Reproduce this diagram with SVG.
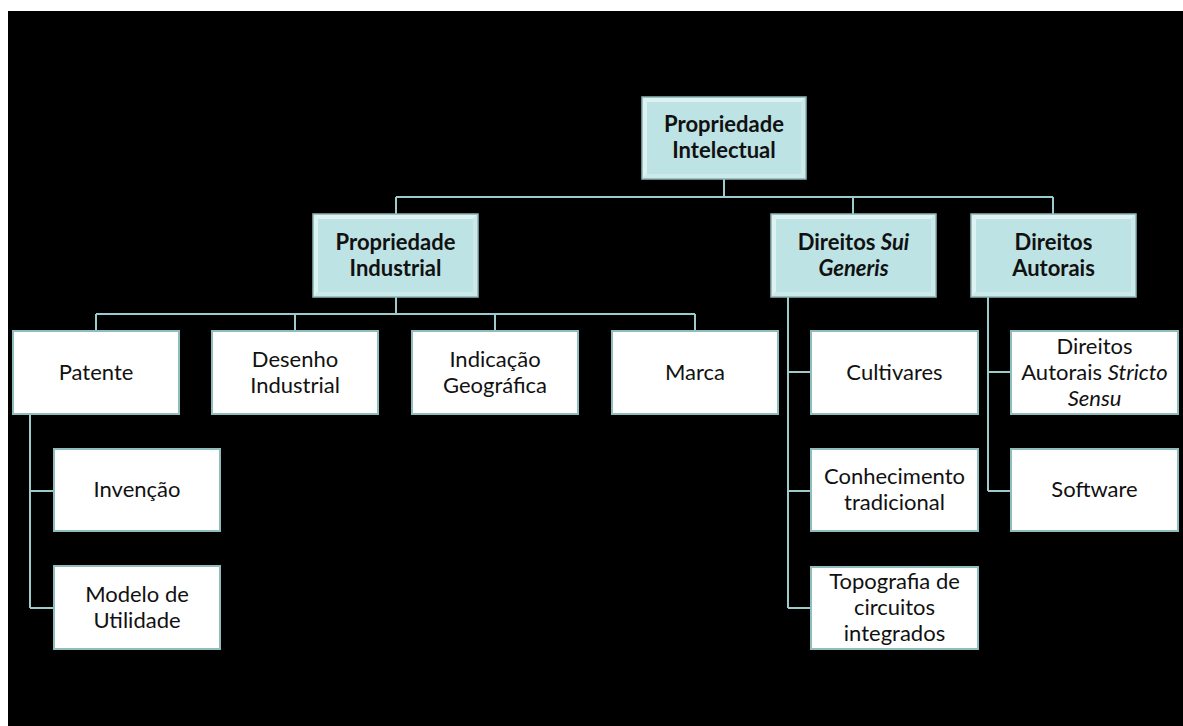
<svg xmlns="http://www.w3.org/2000/svg" width="1183" height="726" viewBox="0 0 1183 726">
  <defs>
    <style>
      .bg { fill: #000000; }
      .frame { fill: #ffffff; }
      .link { fill: none; stroke: #9ccbcb; stroke-width: 2; }
      .head rect.face { fill: #bde3e4; stroke: #8fb7b8; stroke-width: 1.5; }
      .head .hi { fill: #dff2f2; }
      .head .lo { fill: #cdeaea; }
      .leaf rect { fill: #ffffff; stroke: #8fbcbc; stroke-width: 2; }
      text { font-family: Lato, "Open Sans", "Liberation Sans", sans-serif; font-size: 22px; fill: #111111; text-anchor: middle; }
      .head text { font-weight: bold; }
      .it { font-style: italic; }
    </style>
  </defs>

  <!-- page -->
  <rect class="frame" x="0" y="0" width="1183" height="726"/>
  <rect class="bg" x="8" y="11" width="1175" height="715"/>

  <!-- connectors -->
  <g id="connectors">
    <path class="link" d="M724 179 V197 M396 197 H1053 M396 197 V214 M853 197 V214 M1053 197 V214"/>
    <path class="link" d="M396 297 V314 M96 314 H695 M96 314 V331 M295 314 V331 M495 314 V331 M695 314 V331"/>
    <path class="link" d="M30 414 V608 M30 491 H54 M30 608 H54"/>
    <path class="link" d="M788 297 V608 M788 372 H811 M788 491 H811 M788 608 H811"/>
    <path class="link" d="M988 297 V491 M988 372 H1011 M988 491 H1011"/>
  </g>

  <!-- top level -->
  <g id="propriedade-intelectual" class="head">
    <rect class="face" x="642" y="97" width="164" height="82"/>
    <polygon class="hi" points="643,98 805,98 801,102 647,102"/>
    <polygon class="hi" points="643,98 647,102 647,174 643,178"/>
    <polygon class="lo" points="805,98 805,178 801,174 801,102"/>
    <polygon class="lo" points="643,178 805,178 801,174 647,174"/>
    <rect class="face" x="647" y="102" width="154" height="72" style="stroke:none"/>
    <text x="724" y="132">Propriedade</text>
    <text x="724" y="158">Intelectual</text>
  </g>

  <!-- second level -->
  <g id="propriedade-industrial" class="head">
    <rect class="face" x="313" y="214" width="165" height="83"/>
    <polygon class="hi" points="314,215 477,215 473,219 318,219"/>
    <polygon class="hi" points="314,215 318,219 318,292 314,296"/>
    <polygon class="lo" points="477,215 477,296 473,292 473,219"/>
    <polygon class="lo" points="314,296 477,296 473,292 318,292"/>
    <rect class="face" x="318" y="219" width="155" height="73" style="stroke:none"/>
    <text x="395.5" y="250">Propriedade</text>
    <text x="395.5" y="276">Industrial</text>
  </g>

  <g id="direitos-sui-generis" class="head">
    <rect class="face" x="771" y="214" width="165" height="83"/>
    <polygon class="hi" points="772,215 935,215 931,219 776,219"/>
    <polygon class="hi" points="772,215 776,219 776,292 772,296"/>
    <polygon class="lo" points="935,215 935,296 931,292 931,219"/>
    <polygon class="lo" points="772,296 935,296 931,292 776,292"/>
    <rect class="face" x="776" y="219" width="155" height="73" style="stroke:none"/>
    <text x="853.5" y="250">Direitos <tspan class="it">Sui</tspan></text>
    <text x="853.5" y="276" class="it">Generis</text>
  </g>

  <g id="direitos-autorais" class="head">
    <rect class="face" x="971" y="214" width="165" height="83"/>
    <polygon class="hi" points="972,215 1135,215 1131,219 976,219"/>
    <polygon class="hi" points="972,215 976,219 976,292 972,296"/>
    <polygon class="lo" points="1135,215 1135,296 1131,292 1131,219"/>
    <polygon class="lo" points="972,296 1135,296 1131,292 976,292"/>
    <rect class="face" x="976" y="219" width="155" height="73" style="stroke:none"/>
    <text x="1053.5" y="250">Direitos</text>
    <text x="1053.5" y="276">Autorais</text>
  </g>

  <!-- industrial property branches -->
  <g id="patente" class="leaf">
    <rect x="13" y="331" width="166" height="83"/>
    <text x="96" y="380">Patente</text>
  </g>
  <g id="desenho-industrial" class="leaf">
    <rect x="212" y="331" width="166" height="83"/>
    <text x="295" y="367">Desenho</text>
    <text x="295" y="393">Industrial</text>
  </g>
  <g id="indicacao-geografica" class="leaf">
    <rect x="412" y="331" width="166" height="83"/>
    <text x="495" y="367">Indicação</text>
    <text x="495" y="393">Geográfica</text>
  </g>
  <g id="marca" class="leaf">
    <rect x="612" y="331" width="166" height="83"/>
    <text x="695" y="380">Marca</text>
  </g>

  <!-- patent types -->
  <g id="invencao" class="leaf">
    <rect x="54" y="449" width="166" height="82"/>
    <text x="137" y="497">Invenção</text>
  </g>
  <g id="modelo-de-utilidade" class="leaf">
    <rect x="54" y="566" width="166" height="83"/>
    <text x="137" y="602">Modelo de</text>
    <text x="137" y="628">Utilidade</text>
  </g>

  <!-- sui generis rights -->
  <g id="cultivares" class="leaf">
    <rect x="811" y="331" width="167" height="83"/>
    <text x="894.5" y="380">Cultivares</text>
  </g>
  <g id="conhecimento-tradicional" class="leaf">
    <rect x="811" y="449" width="167" height="82"/>
    <text x="894.5" y="484">Conhecimento</text>
    <text x="894.5" y="510">tradicional</text>
  </g>
  <g id="topografia-circuitos" class="leaf">
    <rect x="811" y="567" width="167" height="82"/>
    <text x="894.5" y="589">Topografia de</text>
    <text x="894.5" y="615">circuitos</text>
    <text x="894.5" y="641">integrados</text>
  </g>

  <!-- copyright -->
  <g id="direitos-autorais-stricto-sensu" class="leaf">
    <rect x="1011" y="331" width="167" height="83"/>
    <text x="1094.5" y="354">Direitos</text>
    <text x="1094.5" y="380">Autorais <tspan class="it">Stricto</tspan></text>
    <text x="1094.5" y="406" class="it">Sensu</text>
  </g>
  <g id="software" class="leaf">
    <rect x="1011" y="449" width="167" height="82"/>
    <text x="1094.5" y="497">Software</text>
  </g>
</svg>
